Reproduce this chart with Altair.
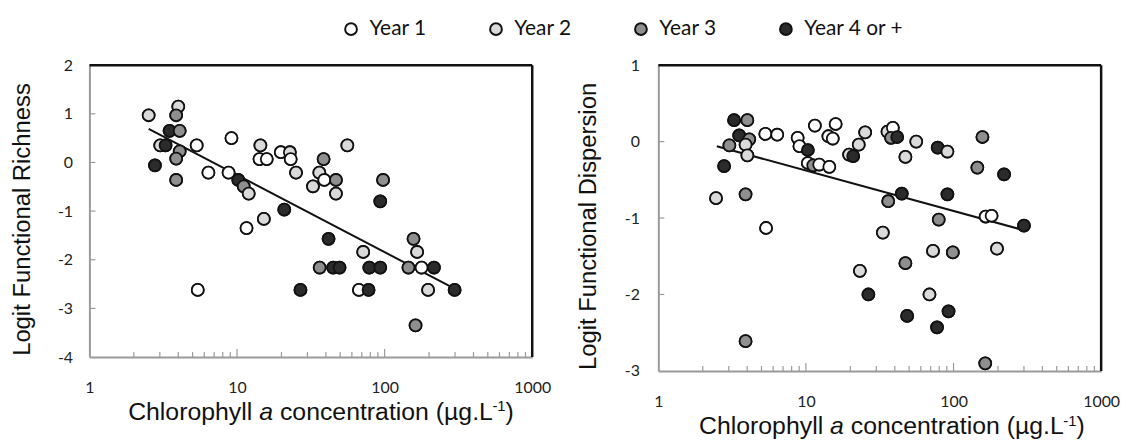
import altair as alt
import pandas as pd

# ---------------- data ----------------
years = ["Year 1", "Year 2", "Year 3", "Year 4 or +"]
fills = ["#ffffff", "#dadada", "#8f8f8f", "#2b2b2b"]

# Left panel: Logit Functional Richness
fr_chl = [2.52, 4.0, 3.87, 3.49, 4.09, 3.02, 3.28, 2.78, 4.09, 3.87, 3.87,
          5.33, 5.42, 6.4, 9.17, 8.77, 10.2, 11.1, 12.0, 11.6, 14.4, 14.2,
          15.9, 15.2, 19.8, 22.8, 23.1, 25.1, 20.9, 26.9, 32.7, 36.1, 39.0,
          38.6, 46.8, 46.8, 55.9, 41.7, 36.3, 44.8, 49.5, 71.6, 67.0, 77.8,
          78.7, 93.4, 93.4, 97.6, 157, 166, 145, 178, 216, 197, 162, 298]
fr_val = [0.97, 1.15, 0.97, 0.65, 0.65, 0.35, 0.35, -0.06, 0.23, 0.08, -0.36,
          0.35, -2.62, -0.21, 0.50, -0.21, -0.36, -0.49, -0.64, -1.35, 0.35, 0.07,
          0.07, -1.16, 0.21, 0.21, 0.07, -0.21, -0.97, -2.62, -0.49, -0.21, -0.36,
          0.07, -0.36, -0.64, 0.35, -1.57, -2.16, -2.16, -2.16, -1.84, -2.62, -2.62,
          -2.16, -2.16, -0.80, -0.36, -1.57, -1.84, -2.16, -2.16, -2.16, -2.62, -3.35, -2.62]
fr_year = ["Year 2", "Year 2", "Year 3", "Year 4 or +", "Year 3", "Year 2", "Year 4 or +",
           "Year 4 or +", "Year 3", "Year 3", "Year 3",
           "Year 1", "Year 1", "Year 1", "Year 1", "Year 1", "Year 4 or +", "Year 3",
           "Year 2", "Year 1", "Year 2", "Year 1",
           "Year 1", "Year 2", "Year 1", "Year 2", "Year 1", "Year 2", "Year 4 or +",
           "Year 4 or +", "Year 2", "Year 2", "Year 1",
           "Year 3", "Year 3", "Year 2", "Year 2", "Year 4 or +", "Year 3", "Year 4 or +",
           "Year 4 or +", "Year 2", "Year 1", "Year 4 or +",
           "Year 4 or +", "Year 4 or +", "Year 4 or +", "Year 3", "Year 3", "Year 2",
           "Year 3", "Year 1", "Year 4 or +", "Year 2", "Year 3", "Year 4 or +"]
fr_trend_chl = [2.52, 300]
fr_trend_val = [0.69, -2.60]

# Right panel: Logit Functional Dispersion
fd_chl = [2.46, 2.79, 3.03, 3.26, 3.53, 4.01, 4.13, 3.90, 4.01, 3.90, 3.90,
          5.31, 6.39, 5.37, 8.79, 9.04, 10.3, 10.3, 11.2, 12.3, 14.4, 11.5,
          14.2, 15.2, 15.9, 19.6, 20.9, 22.8, 25.2, 23.2, 26.5, 33.2, 35.7,
          38.8, 37.7, 41.5, 47.2, 55.9, 36.1, 44.6, 47.2, 48.5, 72.6, 68.7,
          77.3, 78.1, 90.9, 79.4, 90.9, 98.9, 92.5, 145, 157, 220, 165, 181,
          197, 300, 164]
fd_val = [-0.74, -0.32, -0.05, 0.28, 0.08, 0.28, 0.03, -0.04, -0.18, -0.69, -2.61,
          0.10, 0.09, -1.13, 0.05, -0.06, -0.11, -0.28, -0.31, -0.30, -0.33, 0.21,
          0.07, 0.04, 0.23, -0.17, -0.19, -0.04, 0.12, -1.69, -2.00, -1.19, 0.13,
          0.18, 0.05, 0.06, -0.20, 0.00, -0.78, -0.68, -1.59, -2.28, -1.43, -2.00,
          -2.43, -0.08, -0.13, -1.02, -0.69, -1.45, -2.22, -0.34, 0.06, -0.43, -0.98, -0.97,
          -1.40, -1.10, -2.90]
fd_year = ["Year 2", "Year 4 or +", "Year 3", "Year 4 or +", "Year 4 or +", "Year 3",
           "Year 3", "Year 2", "Year 2", "Year 3", "Year 3",
           "Year 1", "Year 1", "Year 1", "Year 1", "Year 1", "Year 4 or +", "Year 1",
           "Year 3", "Year 1", "Year 1", "Year 1",
           "Year 1", "Year 1", "Year 1", "Year 2", "Year 4 or +", "Year 2", "Year 2",
           "Year 2", "Year 4 or +", "Year 2", "Year 2",
           "Year 1", "Year 3", "Year 4 or +", "Year 2", "Year 2", "Year 3", "Year 4 or +",
           "Year 3", "Year 4 or +", "Year 2", "Year 2",
           "Year 4 or +", "Year 4 or +", "Year 2", "Year 3", "Year 4 or +", "Year 3",
           "Year 4 or +", "Year 3", "Year 3", "Year 4 or +", "Year 1", "Year 1",
           "Year 2", "Year 4 or +", "Year 3"]
fd_trend_chl = [2.49, 300]
fd_trend_val = [-0.06, -1.16]

x_major = [1, 10, 100, 1000]
x_minor = [2, 3, 4, 5, 6, 7, 8, 9, 20, 30, 40, 50, 60, 70, 80, 90,
           200, 300, 400, 500, 600, 700, 800, 900]
x_title_parts = ["Chlorophyll", "a", "concentration (µg.L", "-1", ")"]

W = 446
AXIS_GRAY = "#9a9a9a"
INK = "#111111"

fill_enc = alt.Fill(
    "year:N",
    scale=alt.Scale(domain=years, range=fills),
    legend=alt.Legend(
        title=None, orient="none", direction="horizontal",
        legendX=253, legendY=-47, padding=0,
        symbolType="circle", symbolSize=140, symbolStrokeColor=INK,
        symbolStrokeWidth=2, labelFont="Lato", labelFontSize=21,
        labelColor=INK, labelOffset=8, columnPadding=59,
    ),
)


def panel(chl, val, year, t_chl, t_val, ymin, ymax, ytitle, H, lab_pad, title_pad, x0, tb):
    pts = pd.DataFrame({"chl": chl, "val": val, "year": year})
    trend = pd.DataFrame({"chl": t_chl, "val": t_val})
    xscale = alt.Scale(type="log", domain=[1, 1000], nice=False)
    yscale = alt.Scale(domain=[ymin, ymax], nice=False, zero=False)
    xaxis = alt.Axis(values=x_major, labelExpr="datum.value + ''", title=None,
                     labelFlush=False, labelOverlap=False,
                     ticks=False, tickSize=0, grid=False, domainColor=AXIS_GRAY,
                     domainWidth=2, labelFont="Lato", labelFontSize=16,
                     labelColor="#222", labelPadding=23)
    yaxis = alt.Axis(values=list(range(ymin, ymax + 1)), labelExpr="datum.value + ''",
                     title=ytitle, titleFont="Liberation Sans", titleFontSize=24,
                     titleFontWeight="normal", titleColor=INK, titlePadding=title_pad,
                     titleY=H / 2 + 8,
                     ticks=False, tickSize=0, grid=False, domainColor=AXIS_GRAY,
                     domainWidth=2, labelFont="Lato", labelFontSize=16,
                     labelColor="#222", labelPadding=lab_pad)
    X = alt.X("chl:Q", scale=xscale, axis=xaxis)
    Y = alt.Y("val:Q", scale=yscale, axis=yaxis)

    points = alt.Chart(pts).mark_circle(size=145, opacity=1, stroke=INK, strokeWidth=1.8).encode(
        x=X, y=Y, fill=fill_enc,
    )
    line = alt.Chart(trend).mark_line(color=INK, strokeWidth=2).encode(x=X, y=Y)
    minor = alt.Chart(pd.DataFrame({"chl": x_minor})).mark_rule(color=AXIS_GRAY, strokeWidth=1.2).encode(
        x=X, y=alt.value(H), y2=alt.value(H - 5))
    major = alt.Chart(pd.DataFrame({"chl": x_major[1:-1]})).mark_rule(color=AXIS_GRAY, strokeWidth=1.2).encode(
        x=X, y=alt.value(H), y2=alt.value(H - 8))
    yt = alt.Chart(pd.DataFrame({"val": list(range(ymin + 1, ymax))})).mark_rule(
        color=AXIS_GRAY, strokeWidth=1.2).encode(y=Y, x=alt.value(0), x2=alt.value(6))
    one = pd.DataFrame({"z": [0]})
    top = alt.Chart(one).mark_rule(color=INK, strokeWidth=2.5).encode(
        x=alt.value(0), x2=alt.value(W), y=alt.value(0))
    right = alt.Chart(one).mark_rule(color=INK, strokeWidth=2.5).encode(
        x=alt.value(W), y=alt.value(0), y2=alt.value(H))

    yb = H + tb
    offs = [0, 132, 152.9, 366.9, 380.2]
    sizes = [25, 25, 25, 15, 25]
    styles = ["normal", "italic", "normal", "normal", "normal"]
    dys = [0, 0, 0, -9, 0]
    texts = []
    for t, o, s, st, dy in zip(x_title_parts, offs, sizes, styles, dys):
        texts.append(
            alt.Chart(pd.DataFrame({"t": [t]})).mark_text(
                align="left", baseline="alphabetic", font="Liberation Sans",
                fontSize=s, fontStyle=st, color=INK, dy=dy,
            ).encode(text="t:N", x=alt.value(x0 + o), y=alt.value(yb))
        )
    return alt.layer(points, minor, major, yt, top, right, line, points, *texts).properties(width=W, height=H)


left = panel(fr_chl, fr_val, fr_year, fr_trend_chl, fr_trend_val, -4, 2,
             "Logit Functional Richness", 294, 17, 23, 39, 63)
right = panel(fd_chl, fd_val, fd_year, fd_trend_chl, fd_trend_val, -3, 1,
              "Logit Functional Dispersion", 308, 19, 24, 41, 64)

chart = alt.hconcat(left, right, spacing=25).properties(
    padding={"left": 2, "top": 9, "right": 0, "bottom": 0},
    background="white",
).configure_view(stroke=None)

chart.save("out.html", embed_options={"renderer": "svg", "actions": False})
